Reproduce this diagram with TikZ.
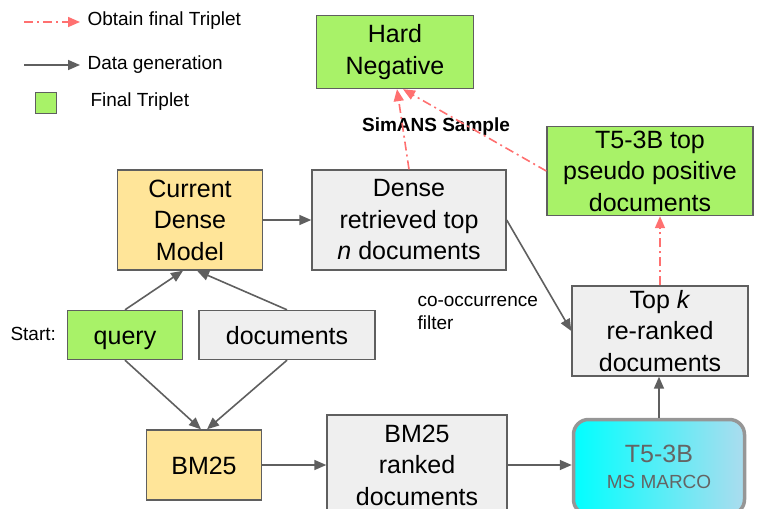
\documentclass[tikz,border=0pt]{standalone}
\usepackage{fontspec}
\setmainfont{Liberation Sans}
\usetikzlibrary{arrows.meta}
\definecolor{boxgreen}{RGB}{168,242,104}
\definecolor{boxyellow}{RGB}{255,229,153}
\definecolor{boxgray}{RGB}{239,239,239}
\definecolor{linegray}{RGB}{95,95,95}
\definecolor{tripletred}{RGB}{255,112,112}
\definecolor{tfiveleft}{RGB}{0,255,255}
\definecolor{tfiveright}{RGB}{172,220,238}
\definecolor{tfiveborder}{RGB}{150,150,150}
\definecolor{tfivetext}{RGB}{100,100,100}

\begin{document}
\begin{tikzpicture}[x=1pt,y=-1pt,
                        box/.style={rectangle, draw=linegray, line width=1.4pt, inner sep=0pt,
                                    align=center, font=\fontsize{25}{31.5}\selectfont},
                        oneline/.style={text height=18pt, text depth=0pt},
                        gen/.style={draw=linegray, line width=1.6pt,
                                    -{Triangle[length=12pt,width=10pt]}},
                        final/.style={draw=tripletred, line width=1.6pt,
                                    dash pattern=on 9pt off 4pt on 2pt off 4pt,
                                    -{Triangle[length=12pt,width=10pt]}},
                        small/.style={font=\fontsize{19}{23}\selectfont}]

        \clip (0,0) rectangle (761,509);

        \coordinate (legfinala) at (24,22);
        \coordinate (legfinalb) at (80,22);
        \draw[final] (legfinala) -- (legfinalb);
        \node[small, anchor=west] (legfinal) at (84,21) {Obtain final Triplet};
        \coordinate (leggena) at (24,65);
        \coordinate (leggenb) at (80,65);
        \draw[gen] (leggena) -- (leggenb);
        \node[small, anchor=west] (leggen) at (84,65) {Data generation};
        \node[draw=linegray, line width=1.4pt, fill=boxgreen, minimum size=21, inner sep=0pt] (legbox) at (46,103) {};
        \node[small, anchor=west] (legtriplet) at (87,102) {Final Triplet};

        \node[box, fill=boxgreen, minimum width=157, minimum height=73] (hardneg) at (395,52) {Hard\\Negative};
        \node[box, fill=boxgreen, minimum width=206, minimum height=89] (pseudo) at (650,171) {T5-3B top\\pseudo positive\\documents};
        \node[box, fill=boxyellow, minimum width=145, minimum height=100] (dense) at (190,220) {Current\\Dense\\Model};
        \node[box, fill=boxgray, minimum width=194, minimum height=100] (retrieved) at (409,220) {Dense\\retrieved top\\\textit{n} documents};
        \node[box, fill=boxgray, minimum width=176, minimum height=90] (topk) at (660,331) {Top \textit{k}\\re-ranked\\documents};
        \node[box, oneline, fill=boxgreen, minimum width=115, minimum height=49] (query) at (125,335) {query};
        \node[box, oneline, fill=boxgray, minimum width=176, minimum height=49] (docs) at (287,335) {documents};
        \node[box, oneline, fill=boxyellow, minimum width=115, minimum height=70] (bm25) at (204,465) {BM25};
        \node[box, fill=boxgray, minimum width=180, minimum height=100] (ranked) at (417,465) {BM25\\ranked\\documents};
        \node[box, draw=tfiveborder, line width=3.5pt, rounded corners=15pt,
              left color=tfiveleft, right color=tfiveright, text=tfivetext,
              minimum width=171, minimum height=95] (tfive) at (659,467)
              {T5-3B\\[-5pt]\fontsize{19}{22}\selectfont MS MARCO};

        \node[small, anchor=west] (startlbl) at (7,334) {Start:};
        \node[small, font=\fontsize{19}{23}\selectfont\bfseries] (simans) at (436,127) {SimANS Sample};
        \node[small, anchor=west, align=left] (cooc) at (414,313) {co-occurrence\\filter};

        \draw[final] (retrieved.north) -- ([xshift=2]hardneg.south);
        \draw[final] (pseudo.west) -- ([xshift=8]hardneg.south);
        \draw[final] (topk.north) -- (topk.north |- pseudo.south);

        \draw[gen] (dense) -- (retrieved);
        \draw[gen] (retrieved.east) -- (topk.west);
        \draw[gen] (query.north) -- ([xshift=-7]dense.south);
        \draw[gen] (docs.north) -- ([xshift=7]dense.south);
        \draw[gen] (query.south) -- ([xshift=-3]bm25.north);
        \draw[gen] (docs.south) -- ([xshift=3]bm25.north);
        \draw[gen] (bm25.east) -- (bm25.east -| ranked.west);
        \draw[gen] (ranked.east) -- (ranked.east -| tfive.west);
        \draw[gen] (tfive.north) -- (tfive.north |- topk.south);
    \end{tikzpicture}
\end{document}
